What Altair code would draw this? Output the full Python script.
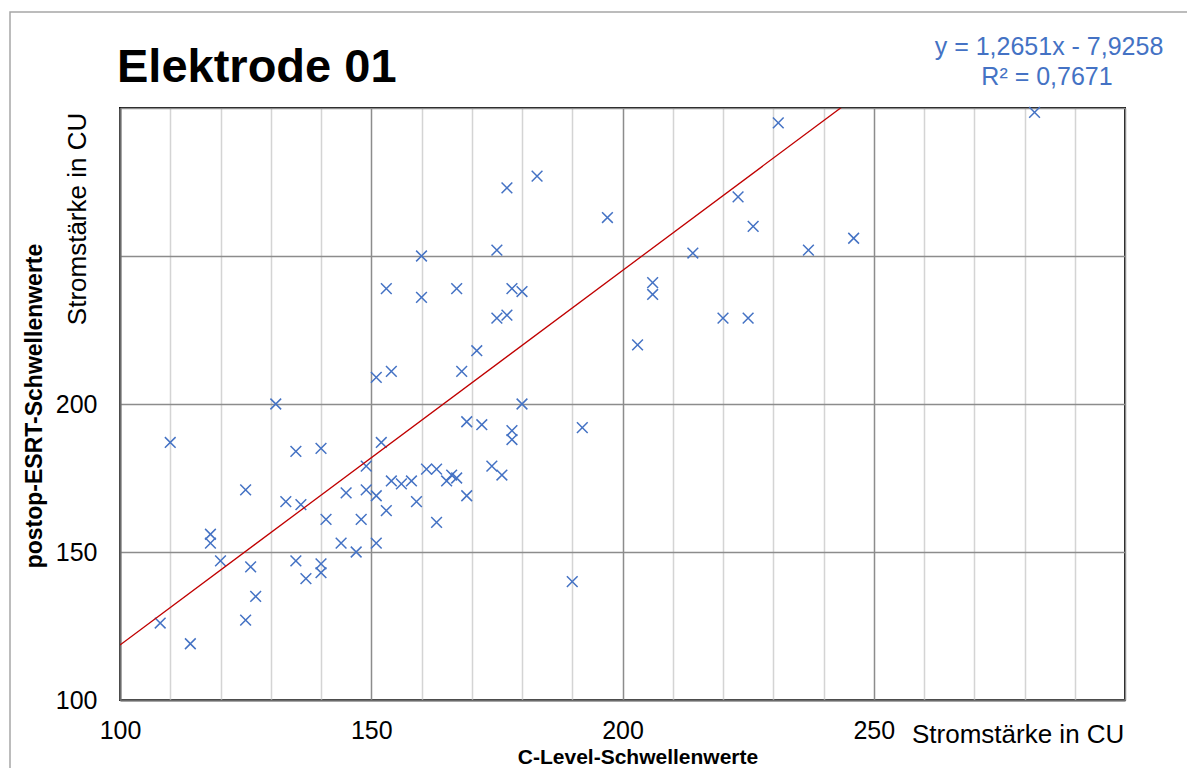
import altair as alt
import pandas as pd

# C-Level thresholds (x) and postop ESRT thresholds (y)
c_level = [282, 231, 183, 177, 223, 197, 226, 246, 175, 214, 237, 160, 206, 206,
           153, 167, 178, 180, 160, 175, 177, 220, 225, 203, 171, 154, 151, 168,
           131, 180, 192, 169, 172, 178, 178, 110, 152, 135, 140, 149, 161, 163,
           174, 154, 156, 158, 165, 166, 167, 176, 125, 149, 145, 151, 169, 133,
           136, 159, 153, 141, 148, 163, 118, 118, 144, 151, 147, 120, 135, 126,
           140, 140, 137, 190, 127, 125, 108, 114]
esrt = [298.5, 295, 277, 273, 270, 263, 260, 256, 252, 251, 252, 250, 241, 237,
        239, 239, 239, 238, 236, 229, 230, 229, 229, 220, 218, 211, 209, 211,
        200, 200, 192, 194, 193, 191, 188, 187, 187, 184, 185, 179, 178, 178,
        179, 174, 173, 174, 174, 176, 175, 176, 171, 171, 170, 169, 169, 167,
        166, 167, 164, 161, 161, 160, 156, 153, 153, 153, 150, 147, 147, 145,
        146, 143, 141, 140, 135, 127, 126, 119]

slope = 1.2651
intercept = -7.9258
trend_x = [100, 300]

x_grid = list(range(100, 301, 10))
y_grid = [100, 150, 200, 250, 300]

title_text = "Elektrode 01"
eq_line1 = "y = 1,2651x - 7,9258"
eq_line2 = "R² = 0,7671"
x_title = "C-Level-Schwellenwerte"
y_title = "postop-ESRT-Schwellenwerte"
unit_text = "Stromstärke in CU"

FONT = "Liberation Sans"
BLUE = "#4472C4"

df = pd.DataFrame({"x": c_level, "y": esrt})
trend_df = pd.DataFrame({"x": trend_x, "y": [slope * v + intercept for v in trend_x]})
one = pd.DataFrame({"a": [0]})

x_scale = alt.Scale(domain=[100, 300], nice=False, zero=False)
y_scale = alt.Scale(domain=[100, 300], nice=False, zero=False)

x_axis = alt.Axis(
    values=x_grid, title=None, ticks=False, tickSize=0,
    labelExpr="(datum.value % 50 === 0 && datum.value < 300) ? datum.label : ''",
    labelFontSize=25, labelFont=FONT, labelColor="#000", labelPadding=18,
    gridColor={"condition": {"test": "datum.value % 50 === 0", "value": "#8c8c8c"}, "value": "#d4d4d4"},
    gridWidth=1.5, domainColor="#6b6b6b", domainWidth=2, labelFlush=False,
)
y_axis = alt.Axis(
    values=y_grid, title=None, ticks=False, tickSize=0,
    labelExpr="datum.value <= 200 ? datum.label : ''",
    labelFontSize=25, labelFont=FONT, labelColor="#000", labelPadding=23,
    gridColor="#8c8c8c", gridWidth=1.5, domainColor="#6b6b6b", domainWidth=2,
)

points = alt.Chart(df).mark_point(
    shape="M-1,-1L1,1M-1,1L1,-1", filled=False, stroke=BLUE, strokeWidth=1.5, size=115, opacity=1
).encode(
    x=alt.X("x:Q", scale=x_scale, axis=x_axis),
    y=alt.Y("y:Q", scale=y_scale, axis=y_axis),
)

trend = alt.Chart(trend_df).mark_line(color="#C00000", strokeWidth=1.3, clip=True).encode(
    x=alt.X("x:Q", scale=x_scale),
    y=alt.Y("y:Q", scale=y_scale),
)

frame = alt.Chart(one).mark_rect(fill=None, stroke="#a6a6a6", strokeWidth=1.5, clip=False).encode(
    x=alt.value(-110), x2=alt.value(1120), y=alt.value(-96), y2=alt.value(720)
)


def txt(text, x, y, size, weight="normal", color="#000", align="left", baseline="alphabetic", angle=0):
    return alt.Chart(one).mark_text(
        text=text, font=FONT, fontSize=size, fontWeight=weight, color=color,
        align=align, baseline=baseline, angle=angle,
    ).encode(x=alt.value(x), y=alt.value(y))


title = txt(title_text, -3, -26, 47, weight="bold")
eq1 = txt(eq_line1, 929, -53, 25, color=BLUE, align="center")
eq2 = txt(eq_line2, 927, -23, 25, color=BLUE, align="center")
xt = txt(x_title, 518, 656, 21, weight="bold", align="center")
yt = txt(y_title, -85, 298, 23, weight="bold", align="center", baseline="middle", angle=270)
unit_x = txt(unit_text, 792, 635, 26)
unit_y = txt(unit_text, -42, 111, 26, align="center", baseline="middle", angle=270)

chart = alt.layer(frame, points, trend, title, eq1, eq2, xt, yt, unit_x, unit_y).properties(
    width=1005, height=592,
    autosize=alt.AutoSizeParams(type="none"),
    padding={"left": 112, "top": 100, "right": 62, "bottom": 68},
    background="white",
).configure_view(stroke="#111111", strokeWidth=2)

chart.save("out.html", embed_options={"renderer": "svg", "actions": False})
